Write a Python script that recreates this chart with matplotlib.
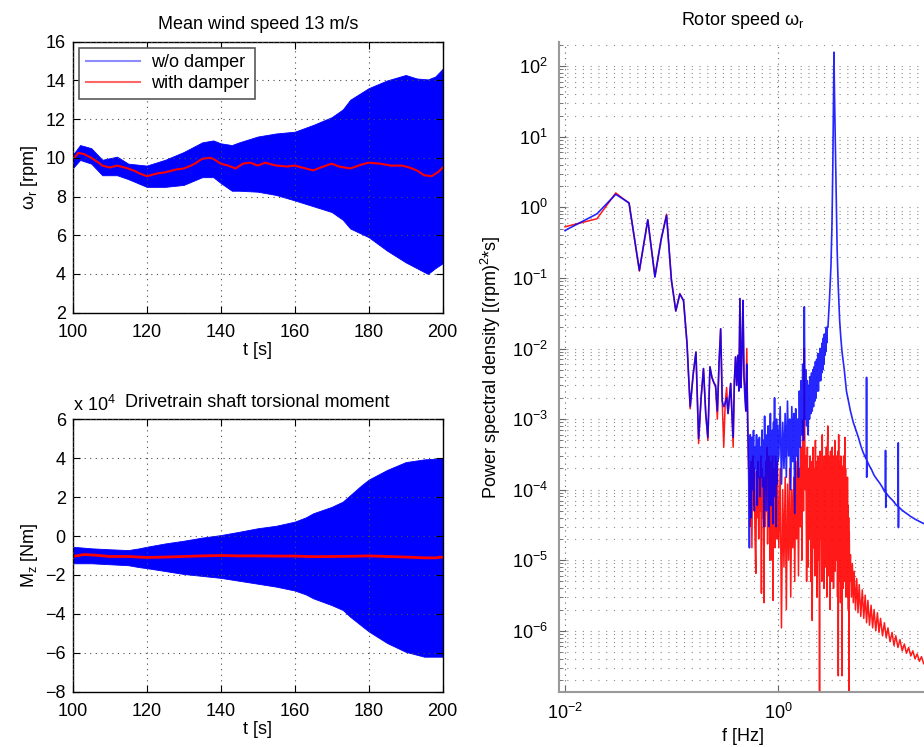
import numpy as np
import matplotlib
matplotlib.use('Agg')
import matplotlib.pyplot as plt
from matplotlib.lines import Line2D
from matplotlib.ticker import FixedLocator, LogLocator, NullLocator, NullFormatter

plt.rcParams['font.family'] = ['Liberation Sans', 'DejaVu Sans']
plt.rcParams['mathtext.fontset'] = 'custom'
plt.rcParams['mathtext.rm'] = 'Liberation Sans'
plt.rcParams['mathtext.it'] = 'Liberation Sans:italic'
plt.rcParams['font.size'] = 13

# ---- rotor speed, time series (envelope of the oscillating w/o-damper signal) ----
t_env = [100, 102, 105, 108, 112, 115, 120, 125, 130, 135, 138, 140, 143, 145, 150,
         155, 160, 165, 170, 173, 175, 180, 185, 190, 193, 196, 198, 200]
w_hi = [10.15, 10.66, 10.5, 9.9, 10.06, 9.7, 9.6, 9.9, 10.3, 10.8, 10.9, 10.75, 10.66, 10.8, 11.1,
        11.26, 11.35, 11.7, 12.1, 12.5, 13.0, 13.6, 14.0, 14.28, 14.1, 14.05, 14.2, 14.6]
w_lo = [9.46, 9.89, 9.7, 9.1, 9.1, 8.9, 8.5, 8.5, 8.6, 9.0, 9.0, 8.7, 8.3, 8.3, 8.25,
        8.08, 7.8, 7.5, 7.2, 6.8, 6.35, 5.9, 5.2, 4.6, 4.3, 4.0, 4.3, 4.55]

t_red = [100, 101.5, 103, 105, 107, 108, 110, 112, 113, 115, 117, 118, 120, 122, 123, 125, 128,
         130, 132, 133, 135, 137, 138, 140, 142, 144, 146, 148, 150, 152, 155, 158, 160, 162,
         165, 167, 170, 172, 175, 178, 180, 183, 186, 189, 191, 193, 195, 197, 199, 200]
w_red = [9.9, 10.25, 10.2, 10.0, 9.75, 9.6, 9.5, 9.6, 9.55, 9.45, 9.3, 9.2, 9.05, 9.15, 9.2, 9.25,
         9.4, 9.45, 9.6, 9.7, 9.95, 10.0, 9.95, 9.7, 9.6, 9.45, 9.7, 9.75, 9.6, 9.75, 9.6, 9.55,
         9.6, 9.5, 9.35, 9.5, 9.7, 9.55, 9.45, 9.65, 9.75, 9.7, 9.6, 9.6, 9.5, 9.35, 9.1, 9.05,
         9.3, 9.5]

# ---- drivetrain torsional moment [Nm] ----
t_env2 = [100, 105, 110, 115, 118, 120, 125, 130, 135, 140, 145, 150, 155, 160, 163, 165,
          170, 173, 175, 178, 180, 185, 190, 195, 200]
m_hi = [-5500, -6300, -6800, -7200, -6300, -5500, -3800, -2400, -800, 500, 2200, 4000, 5300,
        7400, 9600, 11700, 15000, 17700, 21000, 26000, 29000, 34000, 38000, 39400, 40000]
m_lo = [-14000, -14000, -14500, -15000, -16000, -16500, -18000, -19500, -20500, -21500,
        -23000, -24500, -26000, -28000, -30000, -32000, -35500, -38000, -41500, -46000,
        -49000, -55000, -59500, -62000, -62000]
t_red2 = [100, 103, 106, 110, 115, 120, 125, 130, 135, 140, 145, 150, 155, 160, 165, 170,
          175, 180, 185, 190, 195, 198, 200]
m_red = [-10500, -9500, -9800, -10500, -10500, -11000, -10800, -10500, -10200, -10000,
         -10200, -10200, -10300, -10300, -10600, -10500, -10400, -10200, -10500, -10800,
         -11200, -11200, -10800]

# ---- PSD of rotor speed ----
# bins 0.01 .. 0.53 Hz
psd_blue_low = [0.47, 0.81, 1.53, 1.16, 0.128, 0.67, 0.103, 0.35, 0.77, 0.093,
                0.034, 0.059, 0.048, 0.012, 1.5e-3, 4.3e-3, 8.9e-3, 5.3e-4, 2.0e-3, 5.2e-3,
                1.2e-3, 5.5e-4, 5.5e-3, 3.9e-3, 3.3e-3, 3.0e-3, 1.3e-3, 6.2e-3, 1.9e-2, 1.8e-3,
                1.5e-3, 1.7e-3, 2.0e-3, 1.2e-3, 2.0e-3, 3.2e-3, 1.2e-3, 5.5e-4, 3.4e-3, 7.6e-3,
                3.0e-3, 8.0e-3, 2.5e-3, 5.1e-2, 2.8e-3, 9.0e-3, 4.8e-2, 4.0e-3, 2.0e-3, 1.3e-3,
                6.0e-3, 9.6e-4, 2.3e-4]
psd_red_low = [0.53, 0.69, 1.60, 1.14, 0.125, 0.66, 0.105, 0.35, 0.80, 0.093,
               0.034, 0.060, 0.047, 0.012, 1.4e-3, 4.3e-3, 8.9e-3, 4.5e-4, 2.0e-3, 5.2e-3,
               1.2e-3, 5.0e-4, 5.5e-3, 3.9e-3, 3.3e-3, 2.8e-3, 1.0e-3, 6.2e-3, 1.9e-2, 1.8e-3,
               4.0e-4, 1.7e-3, 2.8e-3, 1.2e-3, 2.0e-3, 3.2e-3, 1.2e-3, 4.0e-4, 3.4e-3, 7.6e-3,
               3.0e-3, 8.0e-3, 2.5e-3, 5.1e-2, 2.8e-3, 9.0e-3, 4.8e-2, 4.0e-3, 2.8e-3, 1.3e-3,
               1.0e-2, 9.6e-4, 2.0e-4]
# bins 0.54 .. 1.00 Hz
psd_blue_mid = [1.5e-5, 6.0e-4, 4.0e-5, 5.5e-4, 1.0e-4, 6.9e-4, 5.0e-5, 4.0e-4, 2.0e-4, 6.0e-4,
                6.0e-5, 5.0e-4, 1.5e-4, 5.5e-4, 8.0e-5, 4.0e-4, 1.5e-4, 7.0e-4, 1.1e-4, 5.0e-4,
                3.0e-5, 1.1e-3, 1.0e-4, 6.0e-4, 5.0e-5, 4.5e-4, 2.0e-4, 8.0e-4, 3.0e-5, 5.0e-4,
                1.5e-4, 1.2e-3, 6.0e-5, 4.0e-4, 1.2e-4, 7.0e-4, 3.3e-5, 9.0e-4, 2.0e-4, 2.0e-3,
                8.0e-5, 6.0e-4, 3.0e-5, 1.0e-3, 1.2e-4, 8.0e-4, 2.5e-4]
psd_red_mid = [2.0e-4, 3.0e-5, 2.5e-4, 1.5e-5, 3.0e-4, 6.0e-5, 2.0e-4, 2.0e-5, 6.5e-6, 1.8e-4,
               4.0e-5, 2.5e-4, 2.0e-5, 1.5e-4, 5.0e-5, 3.0e-4, 3.4e-6, 2.0e-4, 4.0e-5, 1.5e-4,
               2.5e-6, 1.5e-4, 3.0e-5, 2.5e-4, 8.0e-5, 4.0e-4, 1.7e-5, 2.0e-4, 8.0e-5, 3.0e-4,
               1.0e-5, 2.5e-4, 4.0e-5, 1.8e-4, 1.0e-5, 3.0e-4, 2.7e-6, 1.2e-4, 5.0e-5, 2.0e-4,
               1.5e-5, 3.0e-4, 6.0e-5, 1.5e-4, 2.0e-5, 2.5e-4, 1.0e-4]
# every 0.03 Hz from 1.02 .. 2.91 Hz
psd_blue_hi = [3e-4, 1.5e-3, 1.2e-4, 9e-4, 2e-4, 1.2e-3, 1.5e-4, 1.8e-3, 3e-4, 1.0e-3,
               1.0e-4, 1.5e-3, 2.5e-4, 1.2e-3, 4.6e-5, 1.4e-3, 3e-4, 1.0e-3, 1.5e-4, 2.5e-3,
               4e-4, 3.5e-3, 6e-4, 6.0e-3, 5e-4, 3.9e-2, 1.0e-3, 5e-3, 8e-4, 3.5e-3,
               6e-4, 3.0e-3, 1.0e-3, 4.0e-3, 1.2e-3, 4.5e-3, 1.3e-3, 5.0e-3, 1.5e-3, 5.5e-3,
               1.8e-3, 6.5e-3, 2.0e-3, 7.0e-3, 2.5e-3, 8.5e-3, 2.5e-3, 7.0e-3, 3.5e-3, 1.0e-2,
               3.5e-3, 1.0e-2, 4.5e-3, 1.2e-2, 5.0e-3, 1.4e-2, 6.0e-3, 1.6e-2, 8.0e-3, 1.6e-2,
               9.0e-3, 2.0e-2, 1.2e-2, 2.0e-2]
psd_red_hi = [1.5e-5, 2.0e-4, 1.1e-6, 1.0e-4, 8.0e-6, 1.5e-4, 2.0e-6, 1.2e-4, 1.0e-5, 2.0e-4,
              3.0e-6, 1.0e-4, 1.5e-5, 1.5e-4, 5.0e-6, 2.5e-4, 2.0e-5, 3.0e-4, 6.0e-6, 2.0e-4,
              3.0e-5, 4.0e-4, 1.0e-5, 9.6e-4, 5.0e-5, 1.0e-2, 1.0e-4, 3.0e-4, 5.0e-6, 4.0e-4,
              8e-6, 2e-4, 2e-5, 3e-4, 5e-6, 2.5e-4, 1.4e-6, 4e-4, 1.5e-5, 2e-4,
              6e-6, 5e-4, 2e-5, 2.5e-4, 3e-6, 3e-4, 1e-5, 2e-4, 1.4e-7, 3.5e-4,
              2e-5, 2e-4, 5e-6, 6e-4, 1.2e-5, 2.5e-4, 4e-6, 3e-4, 2.5e-5, 1.8e-4,
              8e-6, 4e-4, 3e-6, 2.5e-4]
# every 0.03 Hz from 2.94 .. 4.71 Hz (with damper only)
psd_red_band = [8e-4, 6e-6, 3e-4, 2e-5, 2e-4, 2e-6, 3.5e-4, 1e-5, 2.5e-4, 5e-6,
                4e-4, 1.8e-5, 2e-4, 4e-6, 3e-4, 1.2e-5, 5e-4, 7e-6, 2.5e-4, 1.5e-5,
                3e-4, 1e-5, 2e-4, 3e-6, 3.5e-4, 2.3e-7, 6e-4, 5e-6, 2.5e-4, 8e-6,
                1.8e-4, 2.5e-6, 3e-4, 1e-5, 2.2e-4, 2.3e-7, 1.6e-4, 1.5e-5, 2e-4, 4e-6,
                3e-4, 8e-6, 2.5e-4, 5e-6, 5.5e-4, 1.2e-5, 2e-4, 3e-6, 1.2e-4, 1e-5,
                8e-5, 4e-6, 1.5e-4, 3e-6, 6e-5, 2e-6, 4e-5, 1.4e-7, 2.5e-5, 5e-6]
# resonance peak and tail, w/o damper
f_blue_tail = [2.95, 3.05, 3.15, 3.22, 3.28, 3.32, 3.36, 3.40, 3.46, 3.53, 3.60, 3.68, 3.80,
               3.90, 4.00, 4.20, 4.40, 4.60, 4.80, 5.10, 5.40, 5.70, 6.00, 6.30, 6.60, 6.78,
               6.80, 6.82, 6.84, 7.2, 7.6, 8.0, 8.5, 9.0, 9.5, 10.0, 10.2, 10.25, 10.3, 10.35,
               11.0, 12.0, 13.0, 13.4, 13.5, 13.55, 13.6, 14.5, 15.5, 16.5, 17.5, 18.5, 19.5,
               20.5, 21.5, 22.5, 23.5, 25.0]
psd_blue_tail = [2.0e-2, 5.0e-2, 0.15, 0.6, 4.0, 30.0, 158.0, 40.0, 8.0, 1.2, 0.25, 0.08, 2.5e-2,
                 1.4e-2, 9.0e-3, 5.0e-3, 2.5e-3, 1.8e-3, 1.3e-3, 9.0e-4, 7.0e-4, 5.5e-4, 4.2e-4,
                 3.4e-4, 2.9e-4, 2.7e-4, 3.9e-3, 1.5e-4, 2.6e-4, 2.2e-4, 1.9e-4, 1.6e-4, 1.4e-4,
                 1.25e-4, 1.1e-4, 9.5e-5, 9.2e-5, 3.6e-4, 5.6e-5, 9.0e-5, 8.0e-5, 7.0e-5, 6.0e-5,
                 5.8e-5, 4.6e-4, 2.9e-5, 5.7e-5, 5.2e-5, 4.8e-5, 4.5e-5, 4.2e-5, 4.0e-5, 3.8e-5,
                 3.65e-5, 3.5e-5, 3.4e-5, 3.3e-5, 3.2e-5]
# tail, with damper
f_red_tail = [4.8, 4.9, 5.0, 5.1, 5.2, 5.35, 5.5, 5.65, 5.8, 6.0, 6.2, 6.4, 6.6, 6.8, 7.0, 7.25,
              7.5, 7.75, 8.0, 8.3, 8.6, 8.9, 9.2, 9.6, 10.0, 10.4, 10.8, 11.3, 11.8, 12.3, 12.8,
              13.4, 14.0, 14.7, 15.4, 16.1, 16.9, 17.7, 18.5, 19.4, 20.3, 21.3, 22.3, 23.4,
              24.5, 25.0]
psd_red_tail = [1.2e-5, 3e-6, 9e-6, 2.5e-6, 7e-6, 2e-6, 5.5e-6, 1.8e-6, 4.5e-6, 1.6e-6, 3.8e-6,
                1.5e-6, 3.2e-6, 1.3e-6, 2.7e-6, 1.2e-6, 2.3e-6, 1.1e-6, 2.0e-6, 1.0e-6, 1.8e-6,
                9.5e-7, 1.5e-6, 8.5e-7, 1.3e-6, 8e-7, 1.1e-6, 7e-7, 9.5e-7, 6.2e-7, 8.5e-7,
                5.8e-7, 7.5e-7, 5.2e-7, 6.5e-7, 4.8e-7, 5.8e-7, 4.4e-7, 5.2e-7, 4e-7, 4.7e-7,
                3.7e-7, 4.3e-7, 3.4e-7, 3.9e-7, 3.3e-7]

psd_ticks = [1e-6, 1e-5, 1e-4, 1e-3, 1e-2, 1e-1, 1e0, 1e1, 1e2]
f_ticks = [1e-2, 1e0]

# frequency bins of the hand-read segments
f_low = np.arange(1, 54) / 100.0
f_mid = np.arange(54, 101) / 100.0
f_hi = 1.02 + 0.03 * np.arange(len(psd_blue_hi))
f_band = 2.94 + 0.03 * np.arange(len(psd_red_band))

f_blue = np.concatenate([f_low, f_mid, f_hi, f_blue_tail])
p_blue = np.concatenate([psd_blue_low, psd_blue_mid, psd_blue_hi, psd_blue_tail])
f_red = np.concatenate([f_low, f_mid, f_hi, f_band, f_red_tail])
p_red = np.concatenate([psd_red_low, psd_red_mid, psd_red_hi, psd_red_band, psd_red_tail])

BLUE = '#0000ff'
RED = '#ff0000'
grid_kw = dict(color='0.3', linestyle=(0, (1, 4)), linewidth=0.8)

fig = plt.figure(figsize=(9.24, 7.47), dpi=100)
ax1 = fig.add_axes([0.0787, 0.5814, 0.4004, 0.3628])
ax2 = fig.add_axes([0.0787, 0.0740, 0.4004, 0.3647])
ax3 = fig.add_axes([0.605, 0.0740, 0.398, 0.8697])

# top left: rotor speed
ax1.fill_between(t_env, w_lo, w_hi, color=BLUE, linewidth=0.6, edgecolor=BLUE)
ax1.plot(t_red, w_red, color=RED, linewidth=1.5)
ax1.set_xlim(100, 200)
ax1.set_ylim(2, 16)
ax1.set_xticks(range(100, 201, 20))
ax1.set_yticks(range(2, 17, 2))
ax1.set_xlabel('t [s]', labelpad=1)
ax1.set_ylabel('ω$_\\mathrm{r}$ [rpm]')
ax1.set_title('Mean wind speed 13 m/s', fontsize=13, pad=9)
handles = [Line2D([], [], color=BLUE, linewidth=1.5, alpha=0.45),
           Line2D([], [], color=RED, linewidth=1.5, alpha=0.6)]
leg = ax1.legend(handles, ['w/o damper', 'with damper'], loc='upper left',
                 bbox_to_anchor=(0.018, 0.978), borderaxespad=0, fancybox=False,
                 framealpha=1, edgecolor='0.35', handlelength=3.0, handletextpad=0.6,
                 borderpad=0.35, labelspacing=0.25, fontsize=13)
leg.get_frame().set_linewidth(1.2)

# bottom left: torsional moment
ax2.fill_between(t_env2, np.array(m_lo) / 1e4, np.array(m_hi) / 1e4, color=BLUE,
                 linewidth=0.6, edgecolor=BLUE)
ax2.plot(t_red2, np.array(m_red) / 1e4, color=RED, linewidth=2.0)
ax2.set_xlim(100, 200)
ax2.set_ylim(-8, 6)
ax2.set_xticks(range(100, 201, 20))
ax2.set_yticks(range(-8, 7, 2))
ax2.set_xlabel('t [s]', labelpad=1)
ax2.set_ylabel('M$_\\mathrm{z}$ [Nm]')
ax2.set_title('Drivetrain shaft torsional moment', fontsize=13, pad=9)
ax2.text(0.0, 1.015, 'x 10$^{4}$', transform=ax2.transAxes, ha='left', va='bottom',
         fontsize=13)

for ax in (ax1, ax2):
    ax.grid(True, **grid_kw)
    ax.tick_params(direction='in', top=True, right=True, length=5, labelsize=13)
    ax.tick_params(axis='x', pad=8)
    ax.tick_params(axis='y', pad=5)
    for s in ax.spines.values():
        s.set_linewidth(1.0)
    ax.set_axisbelow(False)

# right: PSD
ax3.plot(f_red, p_red, color=RED, linewidth=1.1, alpha=0.9)
ax3.plot(f_blue, p_blue, color=BLUE, linewidth=1.2, alpha=0.85)
ax3.set_xscale('log')
ax3.set_yscale('log')
ax3.set_xlim(0.0088, 25)
ax3.set_ylim(1.37e-7, 220)
ax3.xaxis.set_major_locator(FixedLocator(f_ticks))
ax3.xaxis.set_minor_locator(NullLocator())
ax3.yaxis.set_major_locator(FixedLocator(psd_ticks))
ax3.yaxis.set_minor_locator(LogLocator(base=10, subs=np.arange(2, 10), numticks=20))
ax3.yaxis.set_minor_formatter(NullFormatter())
ax3.grid(True, which='major', axis='x', color='0.4', linestyle=(0, (1, 4)), linewidth=0.8)
ax3.grid(True, which='both', axis='y', color='0.55', linestyle=(0, (1, 6)), linewidth=0.8)
ax3.tick_params(direction='in', length=5, labelsize=13, pad=8, color='0.4')
ax3.tick_params(which='minor', direction='in', length=3, color='0.4')
ax3.spines['top'].set_visible(False)
ax3.spines['right'].set_visible(False)
ax3.spines['left'].set_color('0.6')
ax3.spines['bottom'].set_color('0.6')
ax3.spines['left'].set_linewidth(1.5)
ax3.spines['bottom'].set_linewidth(1.5)
ax3.set_xlabel('f [Hz]', labelpad=4)
ax3.set_ylabel('Power spectral density [(rpm)$^2$*s]', labelpad=6)
ax3.set_title('Rotor speed ω$_\\mathrm{r}$', fontsize=13, pad=12)

fig.savefig('out.png', dpi=100)
